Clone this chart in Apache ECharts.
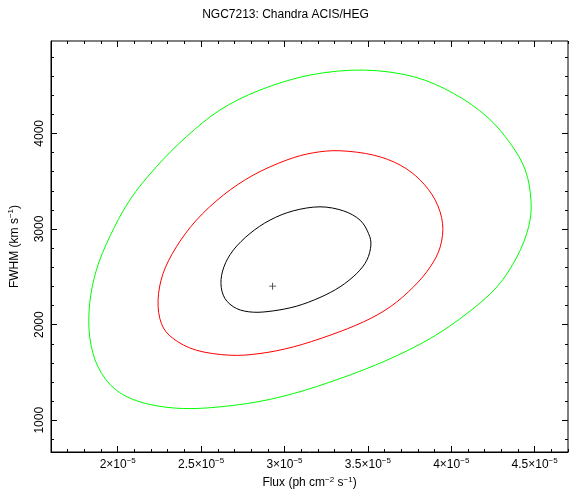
<!DOCTYPE html>
<html><head><meta charset="utf-8">
<script src="https://cdn.jsdelivr.net/npm/echarts@6/dist/echarts.min.js"></script>
<style>html,body{margin:0;padding:0;background:#fff}#c{width:571px;height:489px}</style>
</head><body><div id="c"></div>
<script>
// Flux in units of 1e-5 ph cm^-2 s^-1, FWHM in km/s (closed contours, clockwise from top)
const greenFlux = [3.474,3.774,4.014,4.214,4.354,4.444,4.478,4.464,4.394,4.274,4.094,3.874,3.614,3.333,3.053,2.773,2.432,2.172,1.992,1.882,1.832,1.832,1.872,1.952,2.072,2.232,2.412,2.613,2.853,3.153];
const greenFwhm = [4662,4593,4418,4174,3895,3616,3302,3023,2709,2395,2116,1855,1628,1436,1279,1174,1122,1174,1314,1558,1872,2221,2570,2918,3302,3651,3965,4244,4453,4610];
const redFlux = [3.333,3.534,3.694,3.814,3.904,3.948,3.934,3.874,3.774,3.634,3.474,3.273,3.053,2.853,2.673,2.472,2.332,2.262,2.242,2.272,2.352,2.472,2.633,2.813,3.013,3.173];
const redFwhm = [3818,3773,3668,3511,3302,3058,2814,2604,2395,2186,2029,1889,1767,1698,1680,1732,1855,2011,2256,2535,2814,3093,3354,3564,3721,3797];
const blackFlux = [3.213,3.353,3.453,3.504,3.518,3.494,3.433,3.333,3.213,3.073,2.933,2.813,2.713,2.643,2.619,2.637,2.693,2.793,2.913,3.053];
const blackFwhm = [3232,3190,3093,2953,2831,2674,2535,2395,2284,2193,2144,2130,2168,2273,2430,2604,2779,2953,3093,3190];
const bestFlux = [2.929];
const bestFwhm = [2402];
const xMajorTicks = [2,2.5,3,3.5,4,4.5];
const xMinorTicks = [1.6,1.7,1.8,1.9,2.1,2.2,2.3,2.4,2.6,2.7,2.8,2.9,3.1,3.2,3.3,3.4,3.6,3.7,3.8,3.9,4.1,4.2,4.3,4.4,4.6,4.7];
const yMajorTicks = [1000,2000,3000,4000];
const yMinorTicks = [800,1200,1400,1600,1800,2200,2400,2600,2800,3200,3400,3600,3800,4200,4400,4600,4800];
const xRange = [1.6,4.7];
const yRange = [668,4966];

function zip(a,b){return a.map((v,i)=>[v,b[i]]);}
const font = 'Liberation Sans, Arial, sans-serif';
const rich = {
  n:{fontSize:12,fontFamily:font,color:'#000'},
  s:{fontSize:8,fontFamily:font,color:'#000',padding:[0,0,7,0]}
};
function xAx(pos, ticks, len, labels, line){
  return {type:'value',position:pos,min:xRange[0],max:xRange[1],
    axisLine:{show:line,onZero:false,lineStyle:{color:'#000',width:1}},
    splitLine:{show:false},
    axisTick:{show:true,inside:true,length:len,customValues:ticks,lineStyle:{color:'#000',width:1}},
    axisLabel:{show:labels,customValues:ticks,margin:5,
      formatter:v=>'{n|'+v+'×10}{s|−5}',rich:rich},
    name: labels?'{n|Flux (ph cm}{s|−2}{n| s}{s|−1}{n|)}':'',
    nameLocation:'middle',nameGap:21,nameTextStyle:{rich:rich}
  };
}
function yAx(pos, ticks, len, labels, line){
  return {type:'value',position:pos,min:yRange[0],max:yRange[1],
    axisLine:{show:line,onZero:false,lineStyle:{color:'#000',width:1}},
    splitLine:{show:false},
    axisTick:{show:true,inside:true,length:len,customValues:ticks,lineStyle:{color:'#000',width:1}},
    axisLabel:{show:labels,customValues:ticks,rotate:90,margin:5,formatter:v=>String(v),
      fontSize:12,fontFamily:font,color:'#000'},
    name: labels?'{n|FWHM (km s}{s|−1}{n|)}':'',
    nameLocation:'middle',nameGap:29,nameRotate:90,nameTextStyle:{rich:rich}
  };
}
// closed smooth curve through the contour points (Catmull-Rom as cubic Bezier)
function loopPath(pts){
  const n = pts.length, f = v=>v.toFixed(2);
  let d = 'M'+f(pts[0][0])+' '+f(pts[0][1]);
  for (let i=0;i<n;i++){
    const p0=pts[(i-1+n)%n], p1=pts[i], p2=pts[(i+1)%n], p3=pts[(i+2)%n];
    const c1=[p1[0]+(p2[0]-p0[0])/6, p1[1]+(p2[1]-p0[1])/6];
    const c2=[p2[0]-(p3[0]-p1[0])/6, p2[1]-(p3[1]-p1[1])/6];
    d += 'C'+f(c1[0])+' '+f(c1[1])+' '+f(c2[0])+' '+f(c2[1])+' '+f(p2[0])+' '+f(p2[1]);
  }
  return d+'Z';
}
function contour(flux, fwhm, color){
  return {type:'custom',data:zip(flux,fwhm),encode:{x:0,y:1},clip:true,
    renderItem:(params, api)=>{
      if (params.dataIndex !== 0) return null;
      const pts = flux.map((v,i)=>api.coord([v, fwhm[i]]));
      return {type:'path',shape:{pathData:loopPath(pts)},
        style:{fill:'none',stroke:color,lineWidth:1}};
    }};
}
const chart = echarts.init(document.getElementById('c'),null,{renderer:'canvas'});
chart.setOption({
  animation:false,
  backgroundColor:'#fff',
  title:{text:'NGC7213: Chandra ACIS/HEG',left:'center',top:4,
    textStyle:{fontSize:12,fontWeight:'normal',fontFamily:font,color:'#000'}},
  grid:{left:51,right:3,top:41,bottom:37,containLabel:false,outerBoundsMode:'none',show:true,borderColor:'#000',borderWidth:1},
  xAxis:[xAx('bottom',xMajorTicks,6,true,true),xAx('bottom',xMinorTicks,3,false,false),
         xAx('top',xMajorTicks,6,false,false),xAx('top',xMinorTicks,3,false,false)],
  yAxis:[yAx('left',yMajorTicks,6,true,true),yAx('left',yMinorTicks,3,false,false),
         yAx('right',yMajorTicks,6,false,false),yAx('right',yMinorTicks,3,false,false)],
  series:[
    contour(greenFlux,greenFwhm,'#00ff00'),
    contour(redFlux,redFwhm,'#ff0000'),
    contour(blackFlux,blackFwhm,'#000000'),
    {type:'scatter',data:zip(bestFlux,bestFwhm),symbol:'path://M4.4,0h1.2v10h-1.2z M0,4.4h10v1.2h-10z',symbolSize:7,itemStyle:{color:'#000'}}
  ]
});
</script></body></html>
